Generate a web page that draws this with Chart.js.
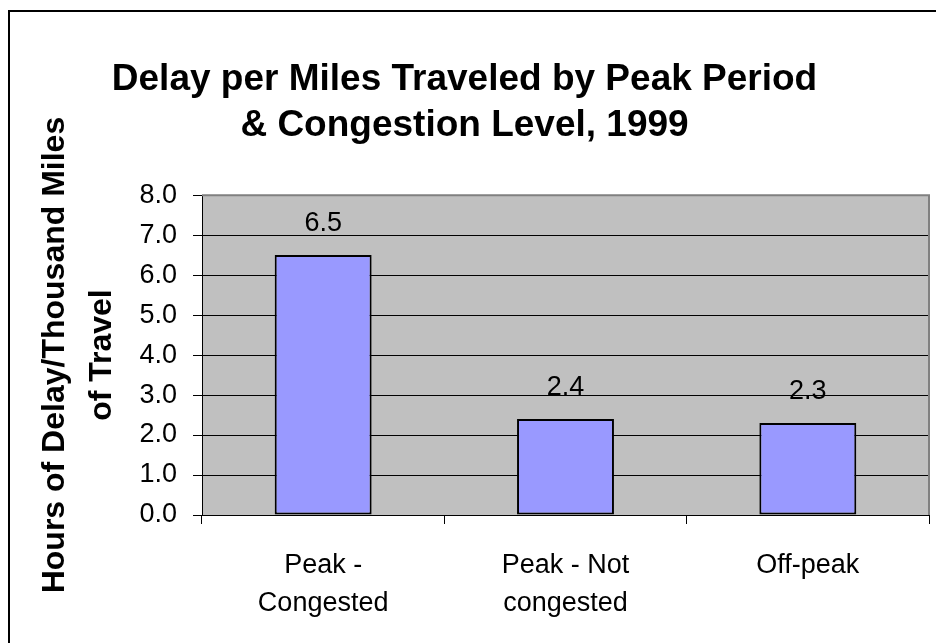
<!DOCTYPE html>
<html>
<head>
<meta charset="utf-8">
<script src="https://cdn.jsdelivr.net/npm/chart.js@4/dist/chart.umd.min.js"></script>
<style>
  html, body { margin: 0; padding: 0; background: #fff; }
  #wrap { width: 936px; height: 643px; }
</style>
</head>
<body>
<div id="wrap"><canvas id="delay-chart" width="936" height="643"></canvas></div>
<script>
const categories = [['Peak -', 'Congested'], ['Peak - Not', 'congested'], 'Off-peak'];
const delayHours = [6.5, 2.4, 2.3];
const yTicks = [0, 1, 2, 3, 4, 5, 6, 7, 8];

const FONT = '"Liberation Sans", Arial, sans-serif';

// gray plot background + frame around the whole picture
const frame = {
    id: 'frame',
    beforeDraw(chart) {
        const { ctx, chartArea: a } = chart;
        ctx.save();
        ctx.fillStyle = '#fff';
        ctx.fillRect(0, 0, chart.width, chart.height);
        ctx.fillStyle = '#c0c0c0';
        ctx.fillRect(a.left, a.top, a.right - a.left, a.bottom - a.top);
        ctx.strokeStyle = '#000';
        ctx.lineWidth = 2;
        ctx.strokeRect(9, 11, chart.width + 20, chart.height + 20);
        ctx.restore();
    },
    afterDraw(chart) {
        const { ctx, chartArea: a } = chart;
        ctx.save();
        ctx.strokeStyle = '#808080';
        ctx.lineWidth = 2;
        ctx.beginPath();
        ctx.moveTo(a.left, a.top);
        ctx.lineTo(a.right, a.top);
        ctx.lineTo(a.right, a.bottom);
        ctx.stroke();
        ctx.restore();
    }
};

// value above each bar
const barValues = {
    id: 'barValues',
    afterDatasetsDraw(chart) {
        const { ctx } = chart;
        const meta = chart.getDatasetMeta(0);
        ctx.save();
        ctx.font = '27px ' + FONT;
        ctx.fillStyle = '#000';
        ctx.textAlign = 'center';
        ctx.textBaseline = 'alphabetic';
        meta.data.forEach((bar, i) => {
            ctx.fillText(delayHours[i].toFixed(1), bar.x, bar.y - 24);
        });
        ctx.restore();
    }
};

new Chart(document.getElementById('delay-chart'), {
    type: 'bar',
    data: {
        labels: categories,
        datasets: [{
            data: delayHours,
            backgroundColor: '#9999ff',
            borderColor: '#000',
            borderWidth: 2,
            borderSkipped: false,
            barPercentage: 0.4,
            categoryPercentage: 1
        }]
    },
    options: {
        responsive: false,
        animation: false,
        devicePixelRatio: 1,
        layout: { padding: { left: 0, right: 7, top: 0, bottom: 0 } },
        plugins: {
            legend: { display: false },
            tooltip: { enabled: false },
            title: {
                display: true,
                text: ['Delay per Miles Traveled by Peak Period', '& Congestion Level, 1999'],
                color: '#000',
                font: { family: FONT, size: 37, weight: 'bold', lineHeight: 1.245 },
                padding: { top: 57, bottom: 46 }
            }
        },
        scales: {
            x: {
                offset: true,
                afterFit(scale) { scale.height = 128; },
                grid: {
                    offset: true,
                    drawOnChartArea: false,
                    drawTicks: true,
                    tickLength: 9,
                    color: '#000'
                },
                border: { display: true, color: '#000', width: 1 },
                ticks: {
                    color: '#000',
                    padding: 22,
                    maxRotation: 0,
                    font: { family: FONT, size: 27, lineHeight: 1.415 }
                }
            },
            y: {
                min: 0,
                max: 8,
                afterFit(scale) { scale.width = 202; },
                afterBuildTicks(scale) { scale.ticks = yTicks.map(v => ({ value: v })); },
                grid: {
                    color: '#000',
                    lineWidth: 1,
                    tickLength: 9
                },
                border: { display: true, color: '#000', width: 1 },
                ticks: {
                    color: '#000',
                    padding: 16,
                    font: { family: FONT, size: 27 },
                    callback: v => v.toFixed(1)
                },
                title: {
                    display: true,
                    text: ['Hours of Delay/Thousand Miles', 'of Travel'],
                    color: '#000',
                    font: { family: FONT, size: 32, weight: 'bold', lineHeight: 1.47 },
                    padding: { top: 32, bottom: 0 }
                }
            }
        }
    },
    plugins: [frame, barValues]
});
</script>
</body>
</html>
